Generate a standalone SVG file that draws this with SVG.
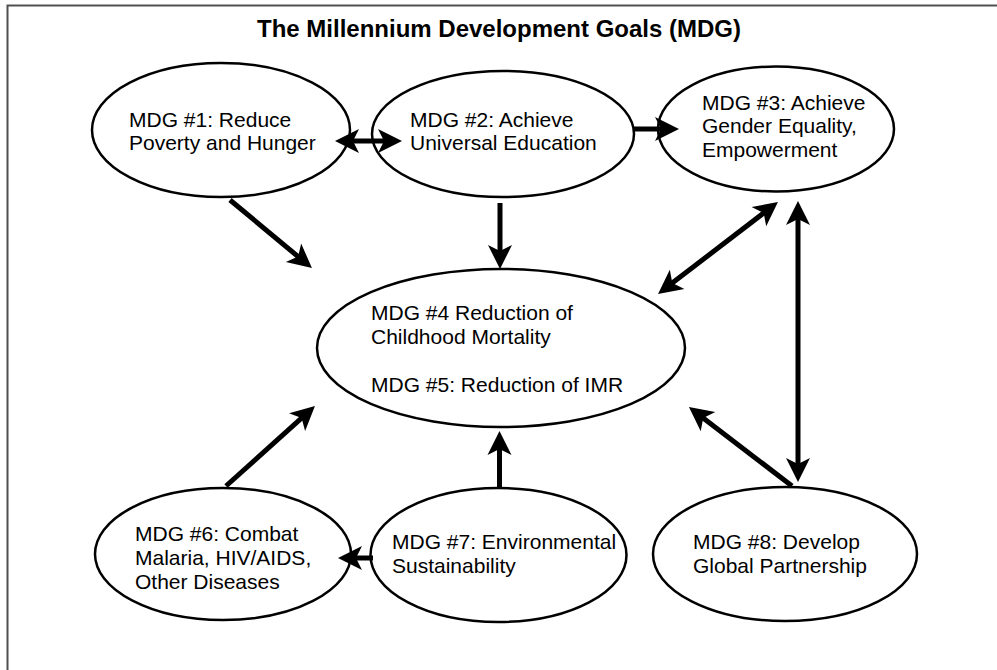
<svg xmlns="http://www.w3.org/2000/svg" width="997" height="670" viewBox="0 0 997 670">
<style>
.frame{fill:none;stroke:#505050;stroke-width:2}
.node ellipse{fill:#fff;stroke:#000;stroke-width:2.5}
.node text{font-family:"Liberation Sans",Arial,sans-serif;font-size:21px;fill:#000}
.title{font-family:"Liberation Sans",Arial,sans-serif;font-size:24px;font-weight:bold;fill:#000}
.conn line{stroke:#000;stroke-width:5;fill:none}
.one{marker-end:url(#ah)}
.two{marker-start:url(#ah);marker-end:url(#ah)}
</style>
<defs>
<marker id="ah" markerUnits="userSpaceOnUse" markerWidth="24" markerHeight="24" refX="16" refY="12" orient="auto-start-reverse" overflow="visible">
<path d="M0,0 L24,12 L0,24 L6,12 Z" fill="#000"/>
</marker>
</defs>
<rect width="997" height="670" fill="#fff"/>
<rect class="frame" x="7.5" y="5.5" width="1000" height="700"/>
<text class="title" x="499" y="37" text-anchor="middle">The Millennium Development Goals (MDG)</text>

<g id="mdg1" class="node">
<ellipse cx="221" cy="130" rx="129" ry="67"/>
<text x="129" y="127">MDG #1: Reduce</text>
<text x="129" y="150">Poverty and Hunger</text>
</g>
<g id="mdg2" class="node">
<ellipse cx="503" cy="134" rx="131" ry="63"/>
<text x="410" y="127">MDG #2: Achieve</text>
<text x="410" y="150">Universal Education</text>
</g>
<g id="mdg3" class="node">
<ellipse cx="776" cy="129" rx="118" ry="62.5"/>
<text x="702" y="110">MDG #3: Achieve</text>
<text x="702" y="133">Gender Equality,</text>
<text x="702" y="157">Empowerment</text>
</g>
<g id="mdg4" class="node">
<ellipse cx="501" cy="348" rx="184" ry="79"/>
<text x="371" y="320">MDG #4 Reduction of</text>
<text x="371" y="344">Childhood Mortality</text>
<text x="371" y="392">MDG #5: Reduction of IMR</text>
</g>
<g id="mdg6" class="node">
<ellipse cx="223" cy="554" rx="128" ry="66"/>
<text x="135" y="541">MDG #6: Combat</text>
<text x="135" y="565">Malaria, HIV/AIDS,</text>
<text x="135" y="589">Other Diseases</text>
</g>
<g id="mdg7" class="node">
<ellipse cx="498.5" cy="555" rx="128" ry="67"/>
<text x="392" y="549">MDG #7: Environmental</text>
<text x="392" y="573">Sustainability</text>
</g>
<g id="mdg8" class="node">
<ellipse cx="785" cy="554" rx="132" ry="67"/>
<text x="693" y="549">MDG #8: Develop</text>
<text x="693" y="573">Global Partnership</text>
</g>

<g id="connectors" class="conn">
<line class="two" x1="343" y1="141" x2="394" y2="141"/>
<line class="one" x1="634" y1="129" x2="671" y2="129"/>
<line class="one" x1="230" y1="200" x2="305.8" y2="263"/>
<line class="one" x1="500" y1="203" x2="500" y2="261"/>
<line class="two" x1="664.4" y1="289.1" x2="771.6" y2="206.9"/>
<line class="two" x1="798" y1="209" x2="798" y2="474"/>
<line class="one" x1="792" y1="486" x2="695.3" y2="411.9"/>
<line class="one" x1="499.5" y1="487" x2="499.5" y2="439"/>
<line class="one" x1="226" y1="486" x2="309" y2="411.4"/>
<line class="one" x1="373" y1="558" x2="346" y2="558"/>
</g>
</svg>
